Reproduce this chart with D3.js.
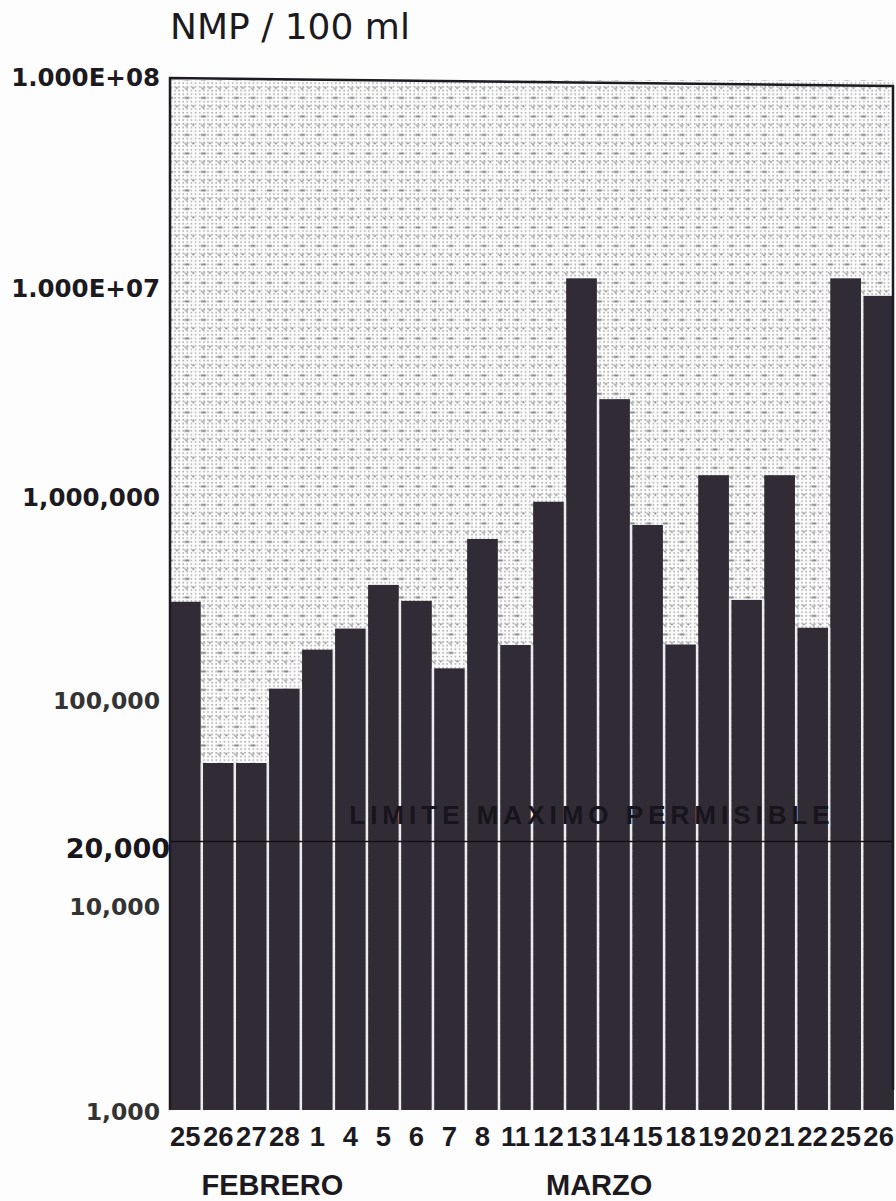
<!DOCTYPE html>
<html>
<head>
<meta charset="utf-8">
<script src="https://cdn.jsdelivr.net/npm/d3@7"></script>
<style>
  html, body { margin: 0; padding: 0; background: #fdfdfd; }
  svg { display: block; }
</style>
</head>
<body>
<script>
// ---- data ----
const dayLabels = ["25","26","27","28","1","4","5","6","7","8","11","12","13","14","15","18","19","20","21","22","25","26"];
const values = [290000, 48000, 48000, 110000, 170000, 215000, 350000, 293000, 138000, 584000, 179000, 885000,
                10700000, 2780000, 683000, 180000, 1190000, 296000, 1190000, 217000, 10700000, 8800000];
const tickValues = [1e3, 1e4, 2e4, 1e5, 1e6, 1e7, 1e8];
const tickLabels = ["1,000", "10,000", "20,000", "100,000", "1,000,000", "1.000E+07", "1.000E+08"];
const limitValue = 20000;
const limitLabel = "LIMITE MAXIMO PERMISIBLE";
const monthLabels = ["FEBRERO", "MARZO"];
const monthAnchor = [2.6, 12.5];
const yTitle = "NMP / 100 ml";

// ---- layout ----
const W = 896, H = 1201;
const mLeft = 170, mRight = 894, mTop = 78, mBottom = 1110;

const svg = d3.select("body").append("svg").attr("width", W).attr("height", H);
const defs = svg.append("defs");

// dotted background texture
const p1 = defs.append("pattern").attr("id", "dots").attr("patternUnits", "userSpaceOnUse")
  .attr("width", 4.125).attr("height", 3.7);
p1.append("rect").attr("x", 1).attr("y", 1).attr("width", 1.5).attr("height", 1.4).attr("fill", "#a4a4a4");
const p2 = defs.append("pattern").attr("id", "marks").attr("patternUnits", "userSpaceOnUse")
  .attr("width", 16.5).attr("height", 18.5);
p2.append("rect").attr("x", 3).attr("y", 4.5).attr("width", 5).attr("height", 1.8).attr("fill", "#858585");
p2.append("path").attr("d", "M3,13 l2,2.5 l2,-2.5").attr("stroke", "#999").attr("stroke-width", 1).attr("fill", "none");
p2.append("rect").attr("x", 11).attr("y", 13).attr("width", 1.8).attr("height", 1.8).attr("fill", "#7c7c7c");

const x = d3.scaleBand().domain(d3.range(values.length)).range([mLeft, mRight]).paddingInner(0.07).paddingOuter(0);
const y = d3.scaleLog().domain([1e3, 1e8]).range([mBottom, mTop]);

// plot background
["#fbfbfb", "url(#dots)", "url(#marks)"].forEach(f => {
  svg.append("rect").attr("x", mLeft).attr("y", mTop + 2)
    .attr("width", mRight - mLeft).attr("height", mBottom - mTop - 2).attr("fill", f);
});

// bars
svg.append("g").selectAll("rect").data(values).join("rect")
  .attr("x", (d, i) => x(i))
  .attr("y", d => y(d))
  .attr("width", x.bandwidth())
  .attr("height", d => mBottom - y(d))
  .attr("fill", "#302b35");

// white separators between bars
const gap = x.step() - x.bandwidth();
svg.append("g").selectAll("rect").data(values.slice(1)).join("rect")
  .attr("x", (d, i) => x(i + 1) - gap)
  .attr("y", (d, i) => y(Math.min(values[i], values[i + 1])))
  .attr("width", gap)
  .attr("height", (d, i) => mBottom - y(Math.min(values[i], values[i + 1])))
  .attr("fill", "#ececec");

// limit text and line
svg.append("text")
  .attr("x", (mLeft + mRight) / 2 + 60).attr("y", y(limitValue) - 17)
  .attr("text-anchor", "middle")
  .attr("font-family", "Liberation Sans, Arial, sans-serif")
  .attr("font-weight", "bold").attr("font-size", 26).attr("letter-spacing", 5)
  .attr("fill", "#18141b")
  .text(limitLabel);
svg.append("line")
  .attr("x1", mLeft).attr("x2", mRight).attr("y1", y(limitValue)).attr("y2", y(limitValue))
  .attr("stroke", "#141116").attr("stroke-width", 1.5);

// frame
svg.append("path")
  .attr("d", `M${mLeft},${mBottom} V${mTop} L${mRight - 1},${mTop + 8} V${mBottom - 20}`)
  .attr("fill", "none").attr("stroke", "#1e1b20").attr("stroke-width", 2.5);

// y axis
const yAxis = d3.axisLeft(y).tickValues(tickValues)
  .tickFormat(d => tickLabels[tickValues.indexOf(d)])
  .tickSize(0).tickPadding(10);
const gy = svg.append("g").attr("transform", `translate(${mLeft},0)`).call(yAxis);
gy.select(".domain").remove();
gy.selectAll("text")
  .attr("font-family", "DejaVu Sans, sans-serif")
  .attr("font-weight", "bold")
  .attr("font-size", 23.5)
  .attr("fill", "#333");
gy.selectAll(".tick").filter(d => d >= 1e6).selectAll("text").attr("fill", "#1c1a1f").attr("font-size", 24.5);
gy.selectAll(".tick").filter(d => d === 1e6).selectAll("text").attr("dy", "0.6em");
gy.selectAll(".tick").filter(d => d === 1e7).selectAll("text").attr("dy", "0.5em");
gy.selectAll(".tick").filter(d => d === 1e5).selectAll("text").attr("dy", "0.5em");
gy.selectAll(".tick").filter(d => d === 1e4).selectAll("text").attr("dy", "0.45em");
gy.selectAll(".tick").filter(d => d === 1e3).selectAll("text").attr("dy", "0.42em");
gy.selectAll(".tick").filter(d => d === 1e8).selectAll("text").attr("dy", "0.3em");
gy.selectAll(".tick").filter(d => d === limitValue).selectAll("text")
  .attr("font-size", 27).attr("fill", "#1a171c").attr("x", 0).attr("dy", "0.6em");

// x axis labels
const xAxis = d3.axisBottom(x).tickFormat(i => dayLabels[i]).tickSize(0).tickPadding(16);
const gx = svg.append("g").attr("transform", `translate(0,${mBottom})`).call(xAxis);
gx.select(".domain").remove();
gx.selectAll("text")
  .attr("font-family", "Liberation Sans, Arial, sans-serif")
  .attr("font-weight", "bold").attr("font-size", 27.5).attr("fill", "#1c1a1f");

// month labels
svg.append("g").selectAll("text").data(monthLabels).join("text")
  .attr("x", (d, i) => x(0) + x.step() * (monthAnchor[i] + 0.5))
  .attr("y", 1195)
  .attr("text-anchor", "middle")
  .attr("font-family", "Liberation Sans, Arial, sans-serif")
  .attr("font-weight", "bold").attr("font-size", 29).attr("fill", "#1c1a1f")
  .text(d => d);

// title
svg.append("text").attr("x", mLeft).attr("y", 39)
  .attr("font-family", "DejaVu Sans, sans-serif")
  .attr("font-size", 36).attr("fill", "#1c1a1f")
  .text(yTitle);
</script>
</body>
</html>
